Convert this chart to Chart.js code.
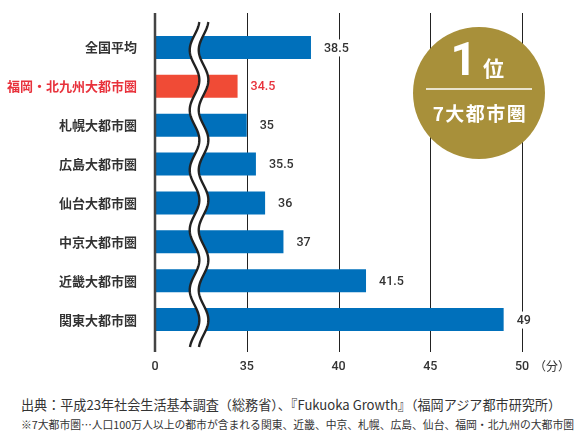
<!DOCTYPE html>
<html>
<head>
<meta charset="utf-8">
<script src="https://cdn.jsdelivr.net/npm/chart.js@4.4.1/dist/chart.umd.min.js"></script>
<style>
  body { margin: 0; background: #fff; }
  #wrap { position: relative; width: 578px; height: 434px; }
  #c { position: absolute; left: 0; top: 0; }
  .note { position: absolute; left: 21px; white-space: nowrap; color: #333; font-family: "Noto Sans CJK JP", sans-serif; }
  #note1 { top: 395px; font-size: 13.1px; }
  #note2 { top: 416px; font-size: 10.8px; }
</style>
</head>
<body>
<div id="wrap">
  <canvas id="c" width="578" height="385"></canvas>
  <div class="note" id="note1">出典：平成23年社会生活基本調査（総務省）、『Fukuoka Growth』（福岡アジア都市研究所）</div>
  <div class="note" id="note2">※7大都市圏…人口100万人以上の都市が含まれる関東、近畿、中京、札幌、広島、仙台、福岡・北九州の大都市圏</div>
</div>
<script>
// data
var categories = ['全国平均', '福岡・北九州大都市圏', '札幌大都市圏', '広島大都市圏', '仙台大都市圏', '中京大都市圏', '近畿大都市圏', '関東大都市圏'];
var minutes = [38.5, 34.5, 35, 35.5, 36, 37, 41.5, 49];
var tickValues = [30, 35, 40, 45, 50];
var tickLabels = ['0', '35', '40', '45', '50'];
var highlight = 1;
var breakAt = 32.4;

var blue = '#0070bb';
var redBar = '#f04b36';
var redText = '#e8323c';
var dark = '#333333';
var gold = '#a8903a';

var barColors = minutes.map(function (v, i) { return i === highlight ? redBar : blue; });

var decorations = {
    id: 'decorations',
    beforeDatasetsDraw: function (chart) {
        var ctx = chart.ctx, xs = chart.scales.x, a = chart.chartArea;
        ctx.save();
        ctx.strokeStyle = '#222';
        ctx.lineWidth = 1;
        tickValues.slice(1).forEach(function (v) {
            var x = Math.round(xs.getPixelForValue(v)) + 0.5;
            ctx.beginPath();
            ctx.moveTo(x, a.top - 15);
            ctx.lineTo(x, a.bottom + 13);
            ctx.stroke();
        });
        ctx.restore();
    },
    afterDatasetsDraw: function (chart) {
        var ctx = chart.ctx, xs = chart.scales.x, a = chart.chartArea;
        var top = a.top - 6, bottom = a.bottom + 8;
        ctx.save();

        // axis break
        var xc = xs.getPixelForValue(breakAt);
        var half = 4.5, amp = 4.8, period = 60;
        function wx(y, off) { return xc + off + amp * Math.cos(2 * Math.PI * (y - 20) / period); }
        ctx.beginPath();
        for (var y = top; y <= bottom; y++) ctx.lineTo(wx(y, -half), y);
        for (var y2 = bottom; y2 >= top; y2--) ctx.lineTo(wx(y2, half), y2);
        ctx.closePath();
        ctx.fillStyle = '#fff';
        ctx.fill();
        ctx.strokeStyle = '#222';
        ctx.lineWidth = 2.4;
        [-half, half].forEach(function (off) {
            ctx.beginPath();
            for (var y = top; y <= bottom; y++) ctx.lineTo(wx(y, off), y);
            ctx.stroke();
        });

        // zero axis line
        ctx.strokeStyle = '#444';
        ctx.lineWidth = 2.5;
        ctx.beginPath();
        ctx.moveTo(a.left, a.top - 15);
        ctx.lineTo(a.left, a.bottom + 13);
        ctx.stroke();

        // value labels (white box behind so grid lines break around them)
        var meta = chart.getDatasetMeta(0);
        ctx.font = '500 12.5px Roboto';
        ctx.textAlign = 'left';
        ctx.textBaseline = 'middle';
        meta.data.forEach(function (bar, i) {
            var txt = String(minutes[i]);
            var w = ctx.measureText(txt).width;
            var lx = bar.x + 13;
            ctx.fillStyle = '#fff';
            ctx.fillRect(lx - 2, bar.y - 8, w + 4, 17);
            ctx.fillStyle = i === highlight ? redText : dark;
            ctx.fillText(txt, lx, bar.y + 1);
        });

        // unit
        ctx.fillStyle = dark;
        ctx.font = '12px "Noto Sans CJK JP"';
        ctx.fillText('（分）', xs.getPixelForValue(50) + 12, a.bottom + 27);

        // badge
        var cx = a.right - 43, cy = a.top + 65;
        ctx.fillStyle = gold;
        ctx.beginPath();
        ctx.arc(cx, cy, 66, 0, Math.PI * 2);
        ctx.fill();
        ctx.fillStyle = '#fff';
        ctx.textBaseline = 'alphabetic';
        ctx.textAlign = 'right';
        ctx.font = 'bold 46px Roboto';
        ctx.fillText('1', cx - 2, cy - 18);
        ctx.textAlign = 'left';
        ctx.font = 'bold 21px "Noto Sans CJK JP"';
        ctx.fillText('位', cx + 4, cy - 17);
        ctx.strokeStyle = '#fff';
        ctx.lineWidth = 1.3;
        ctx.beginPath();
        ctx.moveTo(cx - 53, cy - 4);
        ctx.lineTo(cx + 53, cy - 4);
        ctx.stroke();
        ctx.textAlign = 'center';
        ctx.textBaseline = 'middle';
        ctx.font = 'bold 19px "Noto Sans CJK JP"';
        ctx.letterSpacing = '1.5px';
        ctx.fillText('7大都市圏', cx + 1, cy + 21);
        ctx.restore();
    }
};

var chart = new Chart(document.getElementById('c'), {
    type: 'bar',
    data: {
        labels: categories,
        datasets: [{
            data: minutes,
            backgroundColor: barColors,
            borderWidth: 0,
            barPercentage: 0.59,
            categoryPercentage: 1
        }]
    },
    options: {
        indexAxis: 'y',
        responsive: false,
        animation: false,
        layout: { padding: { top: 28, right: 56, left: 0, bottom: 0 } },
        plugins: { legend: { display: false }, tooltip: { enabled: false } },
        scales: {
            x: {
                min: 30,
                max: 50,
                afterFit: function (s) { s.height = 46; },
                afterBuildTicks: function (s) { s.ticks = tickValues.map(function (v) { return { value: v }; }); },
                grid: { display: false, drawTicks: false },
                border: { display: false },
                ticks: {
                    padding: 20,
                    color: dark,
                    font: { family: 'Roboto', size: 12.5, weight: '500' },
                    callback: function (v, i) { return tickLabels[i]; }
                }
            },
            y: {
                afterFit: function (s) { s.width = 155; },
                grid: { display: false, drawTicks: false },
                border: { display: false },
                ticks: {
                    padding: 18,
                    color: function (c) { return c.index === highlight ? redText : dark; },
                    font: { family: '"Noto Sans CJK JP"', size: 13, weight: 'bold' }
                }
            }
        }
    },
    plugins: [decorations]
});
</script>
</body>
</html>
